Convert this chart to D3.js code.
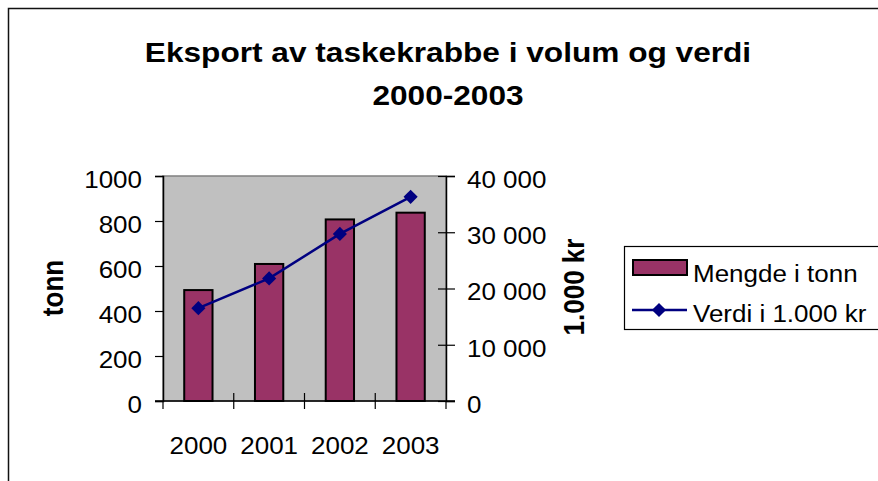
<!DOCTYPE html>
<html>
<head>
<meta charset="utf-8">
<script src="https://cdn.jsdelivr.net/npm/d3@7"></script>
<style>
  body { margin: 0; background: #fff; }
  text { font-family: "Liberation Sans", Arial, sans-serif; fill: #000; }
</style>
</head>
<body>
<script>
// data
var years = ["2000", "2001", "2002", "2003"];
var mengde = [493, 609, 807, 837];          // tonn (bars, left axis)
var verdi = [16500, 21800, 29700, 36300];   // 1.000 kr (line, right axis)
var leftTicks = [0, 200, 400, 600, 800, 1000];
var rightTicks = [0, 10000, 20000, 30000, 40000];
var rightTickLabels = ["0", "10 000", "20 000", "30 000", "40 000"];

var width = 878, height = 481;
var plot = {left: 163, right: 446, top: 176, bottom: 401};
var sx = 1.13; // text in the original is a bit stretched sideways

var svg = d3.select("body")
    .append("svg")
        .attr("width", width)
        .attr("height", height);

// outer chart frame
svg.append("rect")
    .attr("x", 8.5).attr("y", 8.5)
    .attr("width", 900).attr("height", 500)
    .attr("fill", "none")
    .attr("stroke", "#111")
    .attr("stroke-width", 1.5);

function label(x, y, str, size, weight, anchor, rot) {
    return svg.append("text")
        .attr("transform", "translate(" + x + "," + y + ") scale(" + sx + ",1)" + (rot ? " rotate(-90)" : ""))
        .attr("text-anchor", anchor)
        .style("font-size", size + "px")
        .style("font-weight", weight)
        .text(str);
}

// title
label(448, 62, "Eksport av taskekrabbe i volum og verdi", 28, "bold", "middle");
label(448, 105, "2000-2003", 28, "bold", "middle");

var x = d3.scaleBand()
    .domain(years)
    .range([plot.left, plot.right])
    .paddingInner(0.6)
    .paddingOuter(0.3);

var y = d3.scaleLinear()
    .domain([0, 1000])
    .range([plot.bottom, plot.top]);

var y2 = d3.scaleLinear()
    .domain([0, 40000])
    .range([plot.bottom, plot.top]);

// plot area
svg.append("rect")
    .attr("x", plot.left).attr("y", plot.top)
    .attr("width", plot.right - plot.left)
    .attr("height", plot.bottom - plot.top)
    .attr("fill", "#c0c0c0")
    .attr("stroke", "#808080")
    .attr("stroke-width", 1.5);

// bars
svg.append("g")
    .selectAll("rect")
    .data(years)
    .enter()
    .append("rect")
        .attr("x", function(d) { return x(d); })
        .attr("y", function(d, i) { return y(mengde[i]); })
        .attr("width", x.bandwidth())
        .attr("height", function(d, i) { return plot.bottom - y(mengde[i]); })
        .attr("fill", "#993366")
        .attr("stroke", "#000")
        .attr("stroke-width", 2);

// left axis
var leftAxis = svg.append("g")
    .attr("transform", "translate(" + plot.left + ",0)")
    .call(d3.axisLeft(y).tickValues(leftTicks).tickFormat(d3.format("d")).tickSize(8).tickPadding(0));
leftAxis.select(".domain").attr("stroke", "#000").attr("stroke-width", 1.5);
leftAxis.selectAll(".tick line").attr("stroke", "#000").attr("stroke-width", 1.2);
leftAxis.selectAll(".tick text")
    .attr("x", null).attr("dy", null)
    .attr("transform", "translate(-21,3) scale(" + sx + ",1)")
    .attr("dy", "0.36em")
    .style("font-size", "23px")
    .style("font-family", null);

// right axis
var rightAxis = svg.append("g")
    .attr("transform", "translate(" + plot.right + ",0)")
    .call(d3.axisRight(y2).tickValues(rightTicks)
        .tickFormat(function(d, i) { return rightTickLabels[i]; })
        .tickSize(9).tickPadding(0));
rightAxis.select(".domain").attr("stroke", "#000").attr("stroke-width", 1.5);
rightAxis.selectAll(".tick line").attr("x1", -8).attr("stroke", "#000").attr("stroke-width", 1.2);
rightAxis.selectAll(".tick text")
    .attr("x", null).attr("dy", null)
    .attr("transform", "translate(21,3) scale(" + sx + ",1)")
    .attr("dy", "0.36em")
    .style("font-size", "23px")
    .style("font-family", null);

// bottom axis, ticks between categories
var bottomAxis = svg.append("g")
    .attr("transform", "translate(0," + plot.bottom + ")")
    .call(d3.axisBottom(x).tickSize(0).tickPadding(0));
bottomAxis.select(".domain").remove();
bottomAxis.selectAll(".tick text")
    .attr("y", null).attr("dy", null)
    .attr("transform", "translate(0,53) scale(" + sx + ",1)")
    .style("font-size", "23px")
    .style("font-family", null);

svg.append("line")
    .attr("x1", plot.left - 8).attr("x2", plot.right + 9)
    .attr("y1", plot.bottom).attr("y2", plot.bottom)
    .attr("stroke", "#000").attr("stroke-width", 1.5);

var bounds = years.map(function(d) { return x(d) - x.step() * x.paddingInner() / 2; });
bounds.push(plot.right);
bounds[0] = plot.left;
svg.append("g")
    .selectAll("line")
    .data(bounds)
    .enter()
    .append("line")
        .attr("x1", function(d) { return d; })
        .attr("x2", function(d) { return d; })
        .attr("y1", function(d, i) { return (i === 0 || i === bounds.length - 1) ? plot.bottom : plot.bottom - 8; })
        .attr("y2", plot.bottom + 8)
        .attr("stroke", "#000")
        .attr("stroke-width", 1.2);

// line series on the right axis
var cx = function(d, i) { return x(years[i]) + x.bandwidth() / 2; };
svg.append("path")
    .datum(verdi)
    .attr("fill", "none")
    .attr("stroke", "#000080")
    .attr("stroke-width", 2.5)
    .attr("d", d3.line().x(cx).y(function(d) { return y2(d); }));

svg.append("g")
    .selectAll("path")
    .data(verdi)
    .enter()
    .append("path")
        .attr("d", d3.symbol(d3.symbolSquare, 100))
        .attr("transform", function(d, i) { return "translate(" + cx(d, i) + "," + y2(d) + ") rotate(45)"; })
        .attr("fill", "#000080");

// axis titles
label(63, 288, "tonn", 26, "bold", "middle", true);
label(584, 287, "1.000 kr", 26, "bold", "middle", true);

// legend
svg.append("rect")
    .attr("x", 624.5).attr("y", 246.5)
    .attr("width", 300).attr("height", 83)
    .attr("fill", "#fff")
    .attr("stroke", "#000")
    .attr("stroke-width", 1.2);

svg.append("rect")
    .attr("x", 633).attr("y", 260)
    .attr("width", 54).attr("height", 15)
    .attr("fill", "#993366")
    .attr("stroke", "#000")
    .attr("stroke-width", 2);
label(693, 282, "Mengde i tonn", 23, "normal", "start");

svg.append("line")
    .attr("x1", 632).attr("x2", 687)
    .attr("y1", 310).attr("y2", 310)
    .attr("stroke", "#000080")
    .attr("stroke-width", 2.5);
svg.append("path")
    .attr("d", d3.symbol(d3.symbolSquare, 100))
    .attr("transform", "translate(659,310) rotate(45)")
    .attr("fill", "#000080");
label(693, 322, "Verdi i 1.000 kr", 23, "normal", "start");
</script>
</body>
</html>
